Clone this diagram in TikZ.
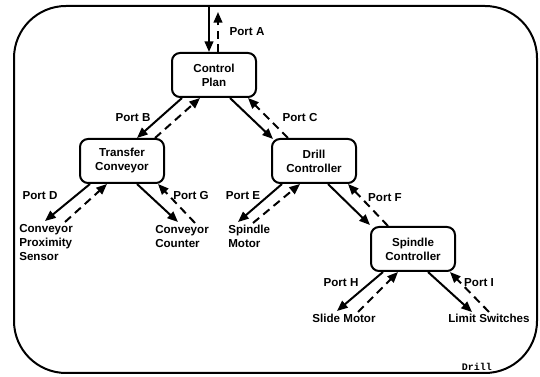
\documentclass[tikz,border=0pt]{standalone}
\usepackage{fontspec}
\setmainfont{Liberation Sans}
\setmonofont{Liberation Mono}
\usetikzlibrary{arrows.meta,calc}
\tikzset{
  box/.style={draw, line width=1.5pt, rounded corners=6pt, minimum width=63pt, minimum height=33pt, inner sep=0pt, align=center, font=\lbl},
  leaf/.style={inner sep=0pt, font=\lbl},
  portlbl/.style={inner sep=0pt, font=\lbl},
  solidarr/.style={line width=1.5pt, -{Triangle[length=8pt,width=6.5pt]}},
  dasharr/.style={line width=1.5pt, dash pattern=on 6pt off 4pt, -{Triangle[length=8pt,width=6.5pt]}},
}
\newcommand{\lbl}{\fontsize{8.7}{10.5}\selectfont\bfseries}
\begin{document}
\begin{tikzpicture}[x=0.75pt,y=-0.75pt]
\useasboundingbox (0,0) rectangle (540,377);
\draw[line width=1.5pt, rounded corners=39pt] (14,6) rectangle (537,373);

\node[box] (cp) at (214,75) {Control\\Plan};
\node[box] (tc) at (122,161) {Transfer\\Conveyor};
\node[box] (dc) at (314,161) {Drill\\Controller};
\node[box] (sc) at (413,249) {Spindle\\Controller};

\node[leaf, anchor=north west, align=left] (cps) at (19,224) {Conveyor\\Proximity\\Sensor};
\node[leaf, anchor=north west, align=left] (cc) at (155,225) {Conveyor\\Counter};
\node[leaf, anchor=north west, align=left] (sm) at (228,225) {Spindle\\Motor};
\node[leaf, anchor=north] (slm) at (344,314) {Slide Motor};
\node[leaf, anchor=north] (ls) at (489,314) {Limit Switches};

\coordinate (topA) at (209,6);
\coordinate (topAd) at (218,12);

% Port A
\draw[solidarr] (topA) -- ($(cp.north)+(-5,0)$);
\draw[dasharr] ($(cp.north)+(4,0)$) -- (topAd);
\node[portlbl] (pa) at (247,32) {Port A};

% Port B
\draw[solidarr] ($(cp.south)+(-32,0)$) -- ($(tc.north)+(15,0)$);
\draw[dasharr] ($(tc.north)+(33,0)$) -- ($(cp.south)+(-14,0)$);
\node[portlbl] (pb) at (133,118) {Port B};

% Port C
\draw[solidarr] ($(cp.south)+(16,0)$) -- ($(dc.north)+(-41,1)$);
\draw[dasharr] ($(dc.north)+(-26,0)$) -- ($(cp.south)+(34,0)$);
\node[portlbl] (pc) at (300,118) {Port C};

% Port D
\draw[solidarr] ($(tc.south)+(-32,0)$) -- ($(cps.north west)+(26,-3)$);
\draw[dasharr] ($(cps.north west)+(46,-2)$) -- ($(tc.south)+(-15,0)$);
\node[portlbl] (pd) at (40,196) {Port D};

% Port G
\draw[solidarr] ($(tc.south)+(15,0)$) -- ($(cc.north west)+(23,-3)$);
\draw[dasharr] ($(cc.north west)+(40,-2)$) -- ($(tc.south)+(36,0)$);
\node[portlbl] (pg) at (191,196) {Port G};

% Port E
\draw[solidarr] ($(dc.south)+(-32,0)$) -- ($(sm.north west)+(10,-3)$);
\draw[dasharr] ($(sm.north west)+(25,-2)$) -- ($(dc.south)+(-14,0)$);
\node[portlbl] (pe) at (243,196) {Port E};

% Port F
\draw[solidarr] ($(dc.south)+(14,0)$) -- ($(sc.north)+(-43,-1)$);
\draw[dasharr] ($(sc.north)+(-25,0)$) -- ($(dc.south)+(34,0)$);
\node[portlbl] (pf) at (385,198) {Port F};

% Port H
\draw[solidarr] ($(sc.south)+(-30,0)$) -- ($(slm.north)+(-7,-3)$);
\draw[dasharr] ($(slm.north)+(14,-2)$) -- ($(sc.south)+(-15,0)$);
\node[portlbl] (ph) at (341,283) {Port H};

% Port I
\draw[solidarr] ($(sc.south)+(15,0)$) -- ($(ls.north)+(-17,-2)$);
\draw[dasharr] ($(ls.north)+(0,-2)$) -- ($(sc.south)+(37,0)$);
\node[portlbl] (pi) at (479,283) {Port I};

\node[inner sep=0pt, font=\ttfamily\bfseries\fontsize{7.5}{9}\selectfont] (drill) at (477,367) {Drill};
\end{tikzpicture}
\end{document}
